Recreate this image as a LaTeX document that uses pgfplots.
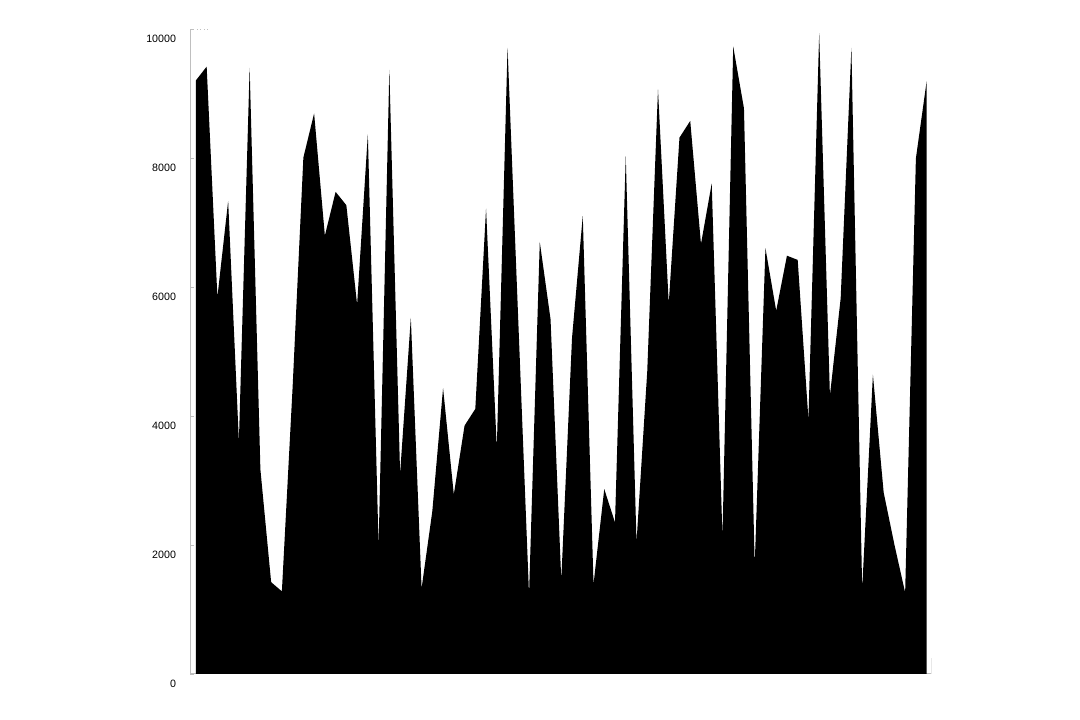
\documentclass[border=0pt]{standalone}
\usepackage{pgfplots}
\pgfplotsset{compat=1.18}
\usepackage{pgfplotstable}
\usepackage{fontspec}
\setmainfont{Liberation Sans}

\pgfplotstableread{
x y
0 9203
1 9417
2 5844
3 7333
4 3605
5 9397
6 3171
7 1424
8 1281
9 4450
10 8006
11 8692
12 6796
13 7475
14 7268
15 5728
16 8368
17 1974
18 9365
19 3107
20 5521
21 1327
22 2524
23 4433
24 2783
25 3851
26 4110
27 7216
28 3495
29 9708
30 5470
31 1230
32 6698
33 5501
34 1456
35 5210
36 7100
37 1391
38 2867
39 2349
40 8025
41 2039
42 4692
43 9061
44 5741
45 8316
46 8575
47 6666
48 7605
49 2116
50 9727
51 8770
52 1683
53 6601
54 5631
55 6485
56 6420
57 3948
58 9934
59 4317
60 5825
61 9708
62 1314
63 4640
64 2815
65 2006
66 1262
67 7993
68 9190
}\datatable

\begin{document}
\begin{tikzpicture}
% page of 1080 x 720 px, 1 px = 0.75pt
\path[use as bounding box] (0pt,0pt) rectangle (810pt,540pt);
\begin{axis}[
    at={(142.5pt,34.5pt)}, anchor=south west,
    scale only axis,
    width=556.1pt, height=483.75pt,
    xmin=-0.55, xmax=68.45,
    ymin=0, ymax=10000,
    axis x line*=bottom, axis y line*=left,
    axis line style={draw=black!25, line width=0.75pt, -},
    xtick=\empty,
    ytick={0,2000,...,10000},
    tick style={draw=black!25, line width=0.6pt},
    major tick length=3pt,
    tick align=inside,
    yticklabel style={font=\fontsize{8}{9}\selectfont, anchor=east, yshift=-7.5pt, xshift=-7pt},
    scaled y ticks=false,
    /pgf/number format/.cd, assume math mode=true, 1000 sep={},
    ]
    \addplot[fill=black, draw=none] table[x=x, y=y] {\datatable} \closedcycle;
    \draw[black!25, line width=0.6pt, dotted] (rel axis cs:0,1) -- ++(13.5pt,0pt);
    \draw[black!25, line width=0.75pt] (rel axis cs:1,0) -- ++(0pt,12pt);
\end{axis}
\end{tikzpicture}
\end{document}
